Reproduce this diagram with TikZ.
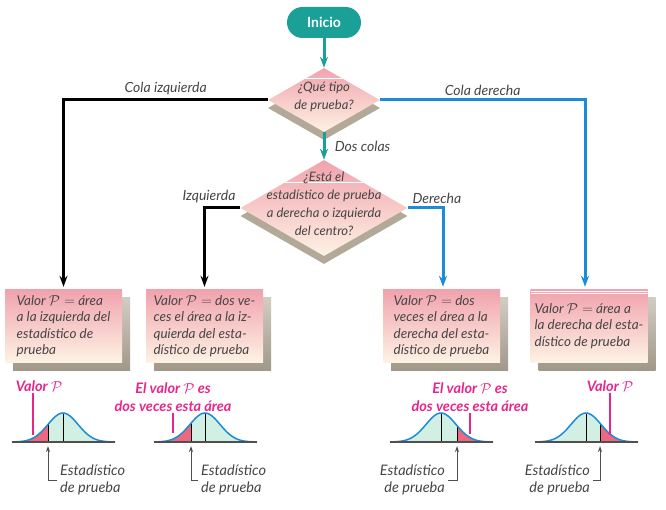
\documentclass[tikz,border=0pt]{standalone}
\usepackage{fontspec}
\setmainfont{Lato}
\usetikzlibrary{positioning, arrows.meta, shapes.geometric, shadows}
\definecolor{verdeazul}{HTML}{1BA098}
\definecolor{azul}{HTML}{1A8CD8}
\definecolor{rosa}{HTML}{F1A3AD}
\definecolor{crema}{HTML}{FDF2E4}
\definecolor{sombra}{HTML}{B3A999}
\definecolor{gristexto}{HTML}{454545}
\definecolor{fucsia}{HTML}{E8268A}
\definecolor{rojo}{HTML}{F0687F}
\definecolor{verdeclaro}{HTML}{D2EFE3}
\definecolor{gris}{HTML}{505050}
\tikzset{
	>={Stealth[length=11pt,width=8pt]},
	every node/.style={text=gristexto, font=\fontsize{14}{16.5}\selectfont\itshape},
	flecha/.style={->, line width=3pt, shorten >=3pt},
	rombo/.style={diamond, aspect=1.75, inner sep=0pt, top color=rosa, bottom color=crema,
		font=\fontsize{13}{18}\selectfont\itshape,
		drop shadow={shadow xshift=0pt, shadow yshift=-8pt, fill=sombra, opacity=1},
		path picture={\draw[white, line width=1pt] ([yshift=-#1]path picture bounding box.north west) -- ([yshift=-#1]path picture bounding box.north east);}},
	caja/.style={rectangle, minimum width=117pt, minimum height=72pt, inner xsep=4pt, align=left,
		font=\fontsize{13.5}{16.5}\selectfont\itshape,
		top color=rosa, bottom color=crema,
		drop shadow={shadow xshift=8pt, shadow yshift=-8pt, top color=sombra!60, bottom color=sombra!90!black, opacity=1}},
	etiqueta/.style={text=fucsia, font=\fontsize{14.5}{18}\selectfont\itshape\bfseries, inner sep=1pt},
	puntero/.style={fucsia, line width=1.2pt},
	estad/.style={font=\fontsize{14.5}{17}\selectfont\itshape, inner sep=3pt},
	senal/.style={-{Stealth[length=6pt,width=4pt]}, gris, line width=1pt}
}
\begin{document}
\begin{tikzpicture}[x=1pt, y=-1pt]
	\useasboundingbox (0,0) rectangle (666,510);
	% inicio y preguntas
	\node (ini) at (324,22.5) [rectangle, rounded corners=15.5pt, minimum width=74pt, minimum height=31pt, fill=verdeazul, text=white, font=\fontsize{14}{16}\selectfont\bfseries] {Inicio};
	\node (q1) at (324,100) [rombo=10pt, minimum width=112pt, minimum height=64pt] {\smash{\begin{tabular}{@{}c@{}}¿Qué tipo\\de prueba?\end{tabular}}};
	\node (q2) at (324,208) [rombo=22pt, minimum width=167pt, minimum height=96pt] {\smash{\begin{tabular}{@{}c@{}}¿Está el\\estadístico de prueba\\a derecha o izquierda\\del centro?\end{tabular}}};
	% cajas
	\node (b1) at (63.5,326) [caja] {Valor $\mathcal{P} =$ área\\a la izquierda del\\estadístico de\\prueba};
	\node (b2) at (204.5,326) [caja] {Valor $\mathcal{P} =$ dos ve-\\ces el área a la iz-\\quierda del esta-\\dístico de prueba};
	\node (b3) at (441.5,326) [caja] {Valor $\mathcal{P} =$ dos\\veces el área a la\\derecha del esta-\\dístico de prueba};
	\node (b4) at (589,326) [caja, path picture={\draw[white, line width=0.6pt] ([yshift=-1.5pt]path picture bounding box.north west) -- ([yshift=-1.5pt]path picture bounding box.north east) ([yshift=-3.5pt]path picture bounding box.north west) -- ([yshift=-3.5pt]path picture bounding box.north east);}] {Valor $\mathcal{P} =$ área a\\la derecha del esta-\\dístico de prueba};
	% conectores
	\draw[flecha, verdeazul, shorten >=0pt] (ini) -- (q1);
	\draw[flecha, verdeazul, shorten >=0pt] (q1) -- node[right=6pt]{Dos colas} (q2);
	\draw[flecha, black] (q1.west) -| node[pos=0.25, above]{Cola izquierda} (b1.north);
	\draw[flecha, azul] (q1.east) -| node[pos=0.25, above]{Cola derecha} ([xshift=-4pt]b4.north);
	\draw[flecha, black] (q2.west) -| node[pos=0, above left]{Izquierda} (b2.north);
	\draw[flecha, azul] (q2.east) -| node[pos=0, above right]{Derecha} ([xshift=1.5pt]b3.north);
	% campanas
	\foreach \n/\m/\s/\izq/\der in {1/63/48/rojo/verdeclaro, 2/205/191/rojo/verdeclaro, 3/441/457/verdeclaro/rojo, 4/586/600/verdeclaro/rojo}{
		\pgfmathsetmacro\xa{\m-51}
		\pgfmathsetmacro\xb{\m+52}
		\pgfmathsetmacro\ys{442-29*exp(-((\s-\m)/15)*((\s-\m)/15)/2)}
		\fill[\izq] (\xa,442) -- plot[domain=\xa:\s, samples=30] (\x,{442-29*exp(-((\x-\m)/15)*((\x-\m)/15)/2)}) -- (\s,442) -- cycle;
		\fill[\der] (\s,442) -- plot[domain=\s:\xb, samples=40] (\x,{442-29*exp(-((\x-\m)/15)*((\x-\m)/15)/2)}) -- (\xb,442) -- cycle;
		\draw[black, line width=0.8pt] (\m,442) -- (\m,413) (\s,442) -- (\s,\ys);
		\draw[azul, line width=1.5pt] plot[domain=\xa:\xb, samples=60] (\x,{442-29*exp(-((\x-\m)/15)*((\x-\m)/15)/2)});
		\draw[gris, line width=1.8pt] (\xa,442) -- (\xb,442);
		\coordinate (s\n) at (\s,446);
	}
	% etiquetas
	\node (v1) at (39,386) [etiqueta] {Valor $\mathcal{P}$};
	\node (v2) at (173,397) [etiqueta, align=center] {El valor $\mathcal{P}$ es\\dos veces esta área};
	\node (v3) at (470,397) [etiqueta, align=center] {El valor $\mathcal{P}$ es\\dos veces esta área};
	\node (v4) at (610,386) [etiqueta] {Valor $\mathcal{P}$};
	\coordinate (p1) at (33,435);
	\coordinate (p2) at (173,433);
	\coordinate (p3) at (470,434);
	\coordinate (p4) at (610,435);
	\foreach \n in {1,...,4}{
		\draw[puntero] (v\n.south -| p\n) -- (p\n);
	}
	\node (e1) at (57,480) [estad, anchor=west, align=left] {Estadístico\\de prueba};
	\node (e2) at (198,480) [estad, anchor=west, align=left] {Estadístico\\de prueba};
	\node (e3) at (448,480) [estad, anchor=east, align=right] {Estadístico\\de prueba};
	\node (e4) at (593,480) [estad, anchor=east, align=right] {Estadístico\\de prueba};
	\foreach \n in {1,...,4}{
		\draw[senal] (e\n) -| (s\n);
	}
\end{tikzpicture}
\end{document}
